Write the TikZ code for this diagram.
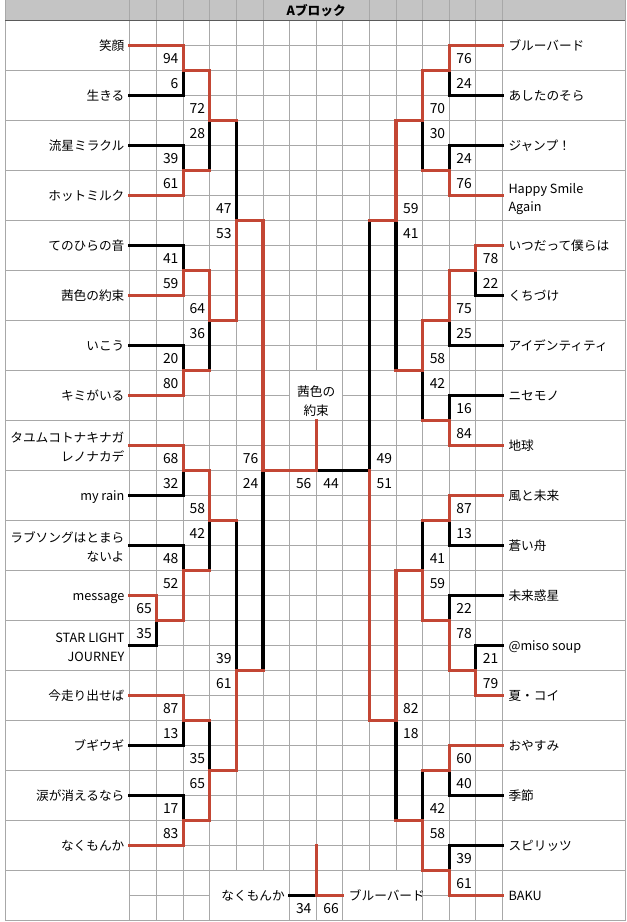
\documentclass[tikz,border=0pt]{standalone}
\usepackage{fontspec}
\setmainfont{Noto Sans CJK JP}
\definecolor{bred}{RGB}{195,70,52}
\definecolor{gridc}{RGB}{168,168,168}
\definecolor{hdrc}{RGB}{196,196,196}
\definecolor{hdrline}{RGB}{90,90,90}
\tikzset{
  gl/.style={draw=gridc, line width=0.75pt},
  wn/.style={draw=bred, line width=2.3pt, line cap=rect, line join=miter},
  ls/.style={draw=black, line width=2.3pt, line cap=rect, line join=miter},
  lname/.style={anchor=base east, inner sep=0pt, yshift=-3.4pt},
  rname/.style={anchor=base west, inner sep=0pt, yshift=-3.4pt},
  cname/.style={anchor=base, inner sep=0pt, yshift=-3.4pt},
  lscore/.style={anchor=base east, inner sep=0pt, yshift=-3.8pt, font=\fontsize{10.4}{14.5}\selectfont},
  rscore/.style={anchor=base west, inner sep=0pt, yshift=-3.8pt, font=\fontsize{10.4}{14.5}\selectfont},
}
\begin{document}
\begin{tikzpicture}[x=19.95pt,y=-18.75pt, every node/.append style={font=\fontsize{9.5}{14.5}\selectfont}]
\useasboundingbox (-4.88722,-0.82) rectangle (18.6466,36.06);
% header
\fill[hdrc] (-4.699,-0.82) rectangle (18.609,0);
\foreach \i in {0,...,5,9,10,...,14} \draw[gl] (\i,-0.82) -- (\i,0);
% grid verticals
\foreach \i in {0,...,6,8,9,...,14} \draw[gl] (\i,0) -- (\i,34);
\draw[gl] (7,0) -- (7,14);
\draw[gl] (7,16) -- (7,34);
% grid horizontals
\foreach \j in {1,...,14,16,17,...,34} \draw[gl] (0,\j) -- (14,\j);
\draw[gl] (0,15) -- (6,15);
\draw[gl] (8,15) -- (14,15);
% text columns
\foreach \j in {2,4,...,36} {
  \draw[gl] (-4.699,\j) -- (0,\j);
  \draw[gl] (14,\j) -- (18.609,\j);
}
\draw[gl] (-4.699,-0.82) -- (-4.699,36);
\draw[gl] (18.609,-0.82) -- (18.609,36);
% final row
\foreach \i in {0,1,2,3,6,7,8,11,12,13,14} \draw[gl] (\i,34) -- (\i,36);
\draw[gl] (0,35) -- (3,35);
\draw[gl] (6,35) -- (8,35);
\draw[gl] (11,35) -- (14,35);
\draw[gl] (0,36) -- (14,36);
\draw[draw=hdrline, line width=0.8pt] (-4.699,0) -- (18.609,0);
\node[cname, font=\fontsize{9.5}{14.5}\selectfont\bfseries] (hdr) at (7,-0.38) {Aブロック};

% ---------- losers (black) ----------
\draw[ls] (0,3) -- (2,3) -- (2,2);
\draw[ls] (0,5) -- (2,5) -- (2,6);
\draw[ls] (3,6) -- (3,4);
\draw[ls] (4,4) -- (4,8);
\draw[ls] (0,9) -- (2,9) -- (2,10);
\draw[ls] (0,13) -- (2,13) -- (2,14);
\draw[ls] (3,14) -- (3,12);
\draw[ls] (0,19) -- (2,19) -- (2,18);
\draw[ls] (0,21) -- (2,21) -- (2,22);
\draw[ls] (0,25) -- (1,25) -- (1,24);
\draw[ls] (3,22) -- (3,20);
\draw[ls] (4,20) -- (4,26);
\draw[ls] (0,29) -- (2,29) -- (2,28);
\draw[ls] (3,28) -- (3,30);
\draw[ls] (0,31) -- (2,31) -- (2,32);
\draw[ls] (5,26) -- (5,18);
\draw[ls] (14,3) -- (12,3) -- (12,2);
\draw[ls] (14,5) -- (12,5) -- (12,6);
\draw[ls] (11,6) -- (11,4);
\draw[ls] (14,11) -- (13,11) -- (13,10);
\draw[ls] (14,13) -- (12,13) -- (12,12);
\draw[ls] (14,15) -- (12,15) -- (12,16);
\draw[ls] (11,16) -- (11,14);
\draw[ls] (10,14) -- (10,8);
\draw[ls] (9,8) -- (9,18) -- (7,18);
\draw[ls] (14,21) -- (12,21) -- (12,20);
\draw[ls] (11,20) -- (11,22);
\draw[ls] (14,23) -- (12,23) -- (12,24);
\draw[ls] (14,25) -- (13,25) -- (13,26);
\draw[ls] (14,31) -- (12,31) -- (12,30);
\draw[ls] (11,30) -- (11,32);
\draw[ls] (14,33) -- (12,33) -- (12,34);
\draw[ls] (10,32) -- (10,28);
\draw[ls] (6,35) -- (7,35);

% ---------- winners (red) ----------
\draw[wn] (0,1) -- (2,1) -- (2,2) -- (3,2) -- (3,4) -- (4,4);
\draw[wn] (0,7) -- (2,7) -- (2,6) -- (3,6);
\draw[wn] (0,11) -- (2,11) -- (2,10) -- (3,10) -- (3,12) -- (4,12) -- (4,8) -- (5,8) -- (5,18) -- (7,18) -- (7,16);
\draw[wn] (0,15) -- (2,15) -- (2,14) -- (3,14);
\draw[wn] (0,17) -- (2,17) -- (2,18) -- (3,18) -- (3,20) -- (4,20);
\draw[wn] (0,23) -- (1,23) -- (1,24) -- (2,24) -- (2,22) -- (3,22);
\draw[wn] (0,27) -- (2,27) -- (2,28) -- (3,28);
\draw[wn] (0,33) -- (2,33) -- (2,32) -- (3,32) -- (3,30) -- (4,30) -- (4,26) -- (5,26);
\draw[wn] (14,1) -- (12,1) -- (12,2) -- (11,2) -- (11,4) -- (10,4) -- (10,8) -- (9,8);
\draw[wn] (14,7) -- (12,7) -- (12,6) -- (11,6);
\draw[wn] (14,9) -- (13,9) -- (13,10) -- (12,10) -- (12,12) -- (11,12) -- (11,14) -- (10,14);
\draw[wn] (14,17) -- (12,17) -- (12,16) -- (11,16);
\draw[wn] (14,19) -- (12,19) -- (12,20) -- (11,20);
\draw[wn] (14,27) -- (13,27) -- (13,26) -- (12,26) -- (12,24) -- (11,24) -- (11,22) -- (10,22) -- (10,28) -- (9,28) -- (9,18);
\draw[wn] (14,29) -- (12,29) -- (12,30) -- (11,30);
\draw[wn] (14,35) -- (12,35) -- (12,34) -- (11,34) -- (11,32) -- (10,32);
\draw[wn] (8,35) -- (7,35) -- (7,33);

% ---------- left names ----------
\node[lname] (L1) at (-0.2,1) {笑顔};
\node[lname] (L2) at (-0.2,3) {生きる};
\node[lname] (L3) at (-0.2,5) {流星ミラクル};
\node[lname] (L4) at (-0.2,7) {ホットミルク};
\node[lname] (L5) at (-0.2,9) {てのひらの音};
\node[lname] (L6) at (-0.2,11) {茜色の約束};
\node[lname] (L7) at (-0.2,13) {いこう};
\node[lname] (L8) at (-0.2,15) {キミがいる};
\node[lname] (L9a) at (-0.2,16.69) {タユムコトナキナガ};
\node[lname] (L9b) at (-0.2,17.45) {レノナカデ};
\node[lname] (L10) at (-0.2,19) {my rain};
\node[lname] (L11a) at (-0.2,20.70) {ラブソングはとまら};
\node[lname] (L11b) at (-0.2,21.45) {ないよ};
\node[lname] (L12) at (-0.2,23.03) {message};
\node[lname] (L13a) at (-0.2,24.71) {STAR LIGHT};
\node[lname] (L13b) at (-0.2,25.45) {JOURNEY};
\node[lname] (L14) at (-0.2,27) {今走り出せば};
\node[lname] (L15) at (-0.2,29) {ブギウギ};
\node[lname] (L16) at (-0.2,31) {涙が消えるなら};
\node[lname] (L17) at (-0.2,33) {なくもんか};

% ---------- right names ----------
\node[rname] (R1) at (14.22,1) {ブルーバード};
\node[rname] (R2) at (14.22,3) {あしたのそら};
\node[rname] (R3) at (14.22,5) {ジャンプ！};
\node[rname] (R4a) at (14.22,6.75) {Happy Smile};
\node[rname] (R4b) at (14.22,7.47) {Again};
\node[rname] (R5) at (14.22,9) {いつだって僕らは};
\node[rname] (R6) at (14.22,11) {くちづけ};
\node[rname] (R7) at (14.22,13) {アイデンティティ};
\node[rname] (R8) at (14.22,15) {ニセモノ};
\node[rname] (R9) at (14.22,17) {地球};
\node[rname] (R10) at (14.22,19) {風と未来};
\node[rname] (R11) at (14.22,21) {蒼い舟};
\node[rname] (R12) at (14.22,23) {未来惑星};
\node[rname] (R13) at (14.22,25) {@miso soup};
\node[rname] (R14) at (14.22,27) {夏・コイ};
\node[rname] (R15) at (14.22,29) {おやすみ};
\node[rname] (R16) at (14.22,31) {季節};
\node[rname] (R17) at (14.22,33) {スピリッツ};
\node[rname] (R18) at (14.22,35) {BAKU};

% ---------- centre labels ----------
\node[cname] (W1) at (7,14.86) {茜色の};
\node[cname] (W2) at (7,15.62) {約束};
\node[lname] (F1) at (5.83,35) {なくもんか};
\node[rname] (F2) at (8.22,35) {ブルーバード};

% ---------- scores ----------
\foreach \c/\a/\t [count=\k] in {1/1/94, 1/2/6, 2/3/72, 2/4/28, 1/5/39, 1/6/61, 3/7/47, 3/8/53,
  1/9/41, 1/10/59, 2/11/64, 2/12/36, 1/13/20, 1/14/80, 1/17/68, 1/18/32, 2/19/58, 2/20/42,
  1/21/48, 1/22/52, 0/23/65, 0/24/35, 3/25/39, 3/26/61, 1/27/87, 1/28/13, 2/29/35, 2/30/65,
  1/31/17, 1/32/83, 4/17/76, 4/18/24, 6/18/56, 6/35/34}
  \node[lscore] (SL\k) at ({\c+0.83},{\a+0.52}) {\t};
\foreach \c/\a/\t [count=\k] in {12/1/76, 12/2/24, 11/3/70, 11/4/30, 12/5/24, 12/6/76, 10/7/59, 10/8/41,
  13/9/78, 13/10/22, 12/11/75, 12/12/25, 11/13/58, 11/14/42, 12/15/16, 12/16/84, 9/17/49, 9/18/51,
  7/18/44, 12/19/87, 12/20/13, 11/21/41, 11/22/59, 12/23/22, 12/24/78, 13/25/21, 13/26/79,
  10/27/82, 10/28/18, 12/29/60, 12/30/40, 11/31/42, 11/32/58, 12/33/39, 12/34/61, 7/35/66}
  \node[rscore] (SR\k) at ({\c+0.26},{\a+0.52}) {\t};
\end{tikzpicture}
\end{document}
